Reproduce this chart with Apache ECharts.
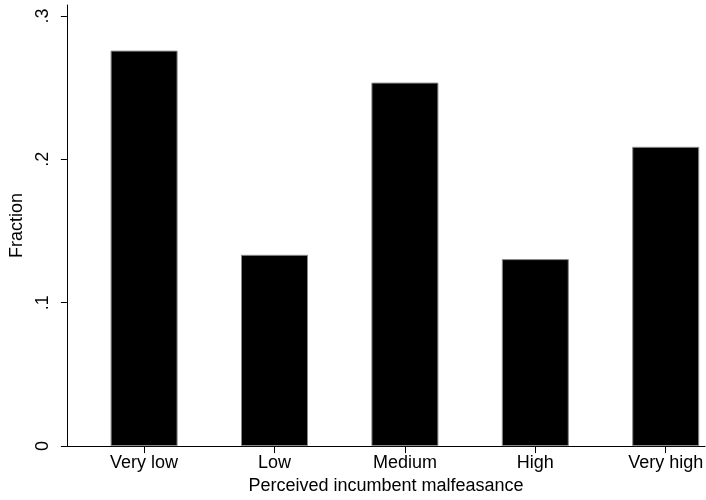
<!DOCTYPE html>
<html>
<head>
<meta charset="utf-8">
<script src="https://cdn.jsdelivr.net/npm/echarts@6/dist/echarts.min.js"></script>
<style>html,body{margin:0;padding:0;background:#fff}#c{width:706px;height:500px}</style>
</head>
<body>
<div id="c"></div>
<script>
const categories = ['Very low', 'Low', 'Medium', 'High', 'Very high'];
const positions = [1, 2, 3, 4, 5];
const fractions = [0.2758, 0.1334, 0.2535, 0.1304, 0.2087];
const yTicks = [0, 0.1, 0.2, 0.3];
const yTickLabels = ['0', '.1', '.2', '.3'];

const font = '"Liberation Sans", Arial, sans-serif';
const chart = echarts.init(document.getElementById('c'), null, {renderer: 'canvas'});
chart.setOption({
  animation: false,
  backgroundColor: '#fff',
  grid: {left: 63, right: 0, top: 5, bottom: 49.5, containLabel: false},
  xAxis: {
    type: 'value', min: 0.408, max: 5.302,
    name: 'Perceived incumbent malfeasance', nameLocation: 'middle', nameGap: 29,
    nameTextStyle: {fontFamily: font, fontSize: 18, color: '#000'},
    axisLine: {show: true, onZero: false, lineStyle: {color: '#000', width: 1}},
    axisTick: {show: true, length: 7, lineStyle: {color: '#000'}, customValues: positions},
    axisLabel: {show: true, margin: 8, fontFamily: font, fontSize: 18, color: '#000',
      customValues: positions,
      formatter: v => categories[positions.indexOf(Math.round(v))] || ''},
    splitLine: {show: false}
  },
  yAxis: {
    type: 'value', min: 0, max: 0.3076,
    name: 'Fraction', nameLocation: 'middle', nameGap: 34, nameRotate: 90,
    nameTextStyle: {fontFamily: font, fontSize: 18, color: '#000'},
    axisLine: {show: true, lineStyle: {color: '#000', width: 1}},
    axisTick: {show: true, length: 6, lineStyle: {color: '#000'}, customValues: yTicks},
    axisLabel: {show: true, rotate: 90, margin: 15, fontFamily: font, fontSize: 18, color: '#000',
      customValues: yTicks,
      formatter: v => yTickLabels[yTicks.findIndex(t => Math.abs(t - v) < 1e-6)] || ''},
    splitLine: {show: false}
  },
  series: [{
    type: 'bar',
    data: positions.map((p, i) => [p, fractions[i]]),
    barWidth: 67,
    itemStyle: {color: '#000', borderColor: '#8a8a8a', borderWidth: 1}
  }]
});
</script>
</body>
</html>
